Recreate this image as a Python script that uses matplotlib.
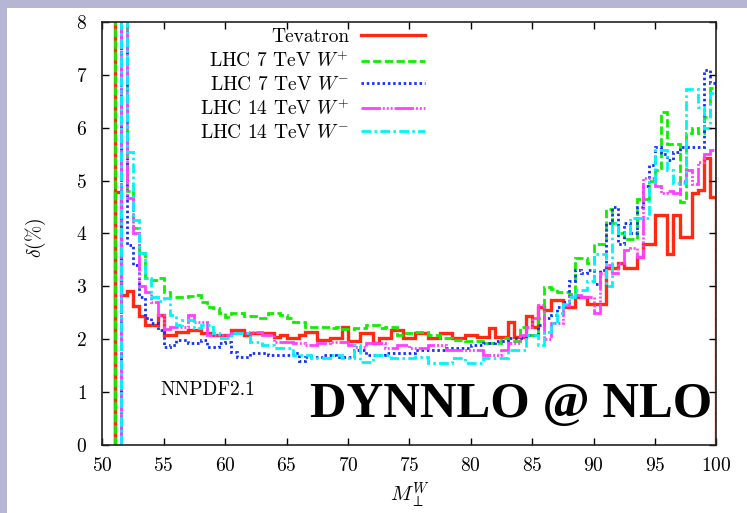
import numpy as np
import matplotlib
matplotlib.use("Agg")
import matplotlib.pyplot as plt
from matplotlib.lines import Line2D
from matplotlib.patches import Rectangle

plt.rcParams["font.family"] = ["cmr10", "DejaVu Serif"]
plt.rcParams["mathtext.fontset"] = "cm"
plt.rcParams["axes.formatter.use_mathtext"] = True

# relative uncertainty delta(%) in bins of M_perp^W, 0.5 GeV wide
BIN = 0.5
OFF = 12.0  # divergent bin at threshold, above the plotted range

labels = ["Tevatron", r"LHC 7 TeV $W^{+}$", r"LHC 7 TeV $W^{-}$",
          r"LHC 14 TeV $W^{+}$", r"LHC 14 TeV $W^{-}$"]
onsets = [51.0, 51.0, 51.5, 51.5, 51.5]

tevatron = [4.79, 2.84, 2.92, 2.63, 2.44, 2.27, 2.27, 2.45,
            2.08, 2.08, 2.14, 2.14, 2.17, 2.17, 2.12, 2.12, 2.08, 2.08,
            2.08, 2.17, 2.17, 2.08, 2.12, 2.12, 2.12, 2.12, 2.05, 2.08,
            2.02, 2.02, 2.08, 2.14, 2.14, 1.98, 1.98, 2.02, 2.02, 2.24,
            1.96, 1.96, 2.12, 2.12, 1.93, 2.02, 2.02, 2.17, 2.17, 2.02,
            2.02, 2.12, 2.12, 2.02, 2.02, 2.12, 2.12, 2.02, 2.02, 2.08,
            2.08, 2.05, 2.05, 2.21, 2.05, 2.05, 2.33, 2.05, 2.05, 2.43,
            2.24, 2.61, 2.55, 2.74, 2.74, 2.61, 2.61, 2.80, 2.80, 2.67,
            2.67, 2.67, 3.34, 3.34, 3.45, 3.34, 3.34, 3.56, 3.81, 3.81,
            4.35, 4.35, 3.62, 4.35, 3.94, 3.94, 4.76, 4.82, 5.42, 4.69]

lhc7_wp = [OFF, OFF, 4.80, 4.10, 3.63, 3.15, 3.12, 3.15,
           2.90, 2.80, 2.80, 2.80, 2.82, 2.84, 2.71, 2.60, 2.59, 2.50,
           2.42, 2.50, 2.50, 2.43, 2.43, 2.40, 2.40, 2.50, 2.50, 2.45,
           2.40, 2.33, 2.33, 2.24, 2.24, 2.24, 2.24, 2.22, 2.24, 2.20,
           2.20, 2.21, 2.21, 2.27, 2.27, 2.21, 2.24, 2.24, 2.08, 2.12,
           2.12, 2.14, 2.14, 2.08, 2.08, 2.02, 2.02, 1.99, 1.99, 1.96,
           1.96, 1.96, 1.93, 1.93, 1.93, 2.02, 1.96, 1.96, 2.24, 2.08,
           2.08, 2.40, 2.99, 2.95, 2.90, 2.90, 2.85, 3.53, 3.53, 3.45,
           3.80, 3.80, 4.47, 4.20, 4.00, 3.90, 3.90, 4.66, 4.66, 5.00,
           5.20, 6.30, 5.70, 5.70, 4.60, 5.90, 6.00, 5.90, 6.20, 6.75]

lhc7_wm = [OFF, 3.78, 3.40, 2.80, 2.40, 2.30, 2.17,
           1.85, 1.89, 1.98, 1.98, 1.93, 1.93, 1.98, 1.86, 1.86, 1.93,
           1.95, 1.76, 1.67, 1.67, 1.74, 1.74, 1.74, 1.70, 1.70, 1.70,
           1.70, 1.74, 1.59, 1.67, 1.67, 1.67, 1.70, 1.70, 1.67, 1.67,
           1.67, 1.80, 1.80, 1.70, 1.70, 1.70, 1.74, 1.74, 1.74, 1.74,
           1.74, 1.80, 1.80, 1.80, 1.80, 1.80, 1.83, 1.83, 1.83, 1.83,
           1.89, 1.89, 1.93, 1.93, 1.96, 1.96, 2.02, 2.02, 2.02, 2.08,
           2.08, 2.27, 2.40, 2.45, 2.60, 2.70, 3.10, 3.30, 3.25, 3.30,
           3.05, 3.30, 4.20, 4.50, 3.80, 4.20, 4.00, 4.50, 4.90, 5.30,
           5.64, 5.51, 5.39, 5.55, 5.64, 5.64, 5.64, 5.64, 7.10, 6.85]

lhc14_wp = [OFF, 4.67, 4.00, 3.00, 2.90, 2.70, 2.45,
            2.20, 2.24, 2.24, 2.24, 2.46, 2.33, 2.33, 2.08, 2.08, 2.08,
            2.08, 2.12, 2.12, 2.12, 2.14, 2.14, 2.08, 2.08, 1.95, 1.95,
            1.95, 1.93, 1.93, 1.89, 1.89, 1.93, 1.93, 1.95, 1.95, 1.95,
            1.89, 1.86, 1.86, 1.93, 1.93, 1.93, 1.83, 1.83, 1.89, 1.89,
            1.83, 1.83, 1.83, 1.89, 1.89, 1.89, 1.80, 1.80, 1.80, 1.80,
            1.80, 1.80, 1.70, 1.70, 1.70, 1.80, 1.93, 1.93, 2.08, 2.24,
            2.40, 2.65, 2.00, 2.30, 2.30, 2.65, 2.84, 2.84, 2.80, 2.80,
            2.50, 3.25, 3.40, 3.25, 3.45, 3.69, 3.72, 3.55, 5.05, 5.05,
            4.90, 4.76, 4.80, 4.76, 5.00, 5.20, 4.93, 5.35, 5.50, 5.57]

lhc14_wm = [OFF, 5.54, 4.25, 3.63, 3.15, 2.80, 2.72,
            2.78, 2.46, 2.27, 2.36, 2.36, 2.21, 2.27, 2.27, 2.12, 2.02,
            2.02, 2.12, 2.12, 2.12, 1.95, 1.95, 1.89, 1.89, 1.83, 1.83,
            1.83, 1.70, 1.70, 1.70, 1.64, 1.64, 1.64, 1.70, 1.70, 1.64,
            1.64, 1.89, 1.57, 1.57, 1.70, 1.70, 1.70, 1.64, 1.64, 1.64,
            1.64, 1.67, 1.67, 1.55, 1.55, 1.55, 1.55, 1.64, 1.64, 1.55,
            1.55, 1.55, 1.64, 1.64, 1.64, 1.64, 1.80, 1.80, 1.80, 2.08,
            2.08, 1.89, 2.14, 2.30, 2.50, 2.67, 2.80, 2.93, 2.93, 3.10,
            3.62, 3.62, 3.00, 4.19, 4.00, 4.00, 4.30, 4.30, 4.30, 4.97,
            5.58, 5.58, 5.20, 4.96, 4.96, 6.74, 6.74, 6.40, 6.00, 6.65]

series = [tevatron, lhc7_wp, lhc7_wm, lhc14_wp, lhc14_wm]

colors = ["#ff2a10", "#10ee00", "#1030ff", "#ff40ff", "#00f4f4"]
widths = [2.4, 2.0, 2.0, 2.0, 2.0]
styles = ["-",
          (0, (3.0, 1.2)),
          (0, (0.9, 1.0)),
          (0, (7.0, 0.7, 0.7, 0.7, 0.7, 0.7, 0.7, 0.7)),
          (0, (3.5, 1.2, 0.9, 1.2))]

fig = plt.figure(figsize=(7.47, 5.13), dpi=100)
fig.patch.set_facecolor("white")
frame = "#b6b6d4"
fig.add_artist(Rectangle((0, 0.984), 1, 0.016, transform=fig.transFigure,
                         facecolor=frame, edgecolor="none", zorder=-5))
fig.add_artist(Rectangle((0, 0), 0.0095, 1, transform=fig.transFigure,
                         facecolor=frame, edgecolor="none", zorder=-5))

ax = fig.add_axes([0.1369, 0.1326, 0.8222, 0.8246])

handles = []
for vals, x0, c, lw, ls, lab in zip(series, onsets, colors, widths, styles, labels):
    edges = x0 + BIN * np.arange(len(vals) + 1)
    ax.stairs(vals, edges, baseline=0, color=c, linewidth=lw, linestyle=ls)
    ax.axvline(x0, color=c, linewidth=lw, linestyle=ls)
    handles.append(Line2D([], [], color=c, linewidth=lw, linestyle=ls))

ax.set_xlim(50, 100)
ax.set_ylim(0, 8)
ax.set_xticks(np.arange(50, 101, 5))
ax.set_yticks(np.arange(0, 9, 1))
ax.tick_params(direction="in", length=5, width=1.0, top=True, right=True,
               labelsize=14)
ax.tick_params(axis="x", pad=9)
ax.tick_params(axis="y", pad=11)
for sp in ax.spines.values():
    sp.set_linewidth(1.2)
    sp.set_color("#222222")

ax.set_ylabel(r"$\delta$(%)", fontsize=14)
ax.yaxis.set_label_coords(-0.088, 0.49)
ax.set_xlabel(r"$M_{\perp}^{W}$", fontsize=15)
ax.xaxis.set_label_coords(0.501, -0.083)

ax.legend(handles, labels, loc="upper right", bbox_to_anchor=(0.5254, 0.985),
          frameon=False, markerfirst=False, fontsize=14, handlelength=3.3,
          handletextpad=0.6, labelspacing=0.24, borderpad=0, borderaxespad=0)

ax.text(0.172, 0.13, "NNPDF2.1", transform=ax.transAxes, fontsize=14,
        ha="center", va="center")
ax.text(0.993, 0.066, "DYNNLO @ NLO", transform=ax.transAxes,
        fontsize=36.5, fontweight="bold", family="Liberation Serif",
        ha="right", va="baseline")

fig.savefig("out.png", dpi=100)
